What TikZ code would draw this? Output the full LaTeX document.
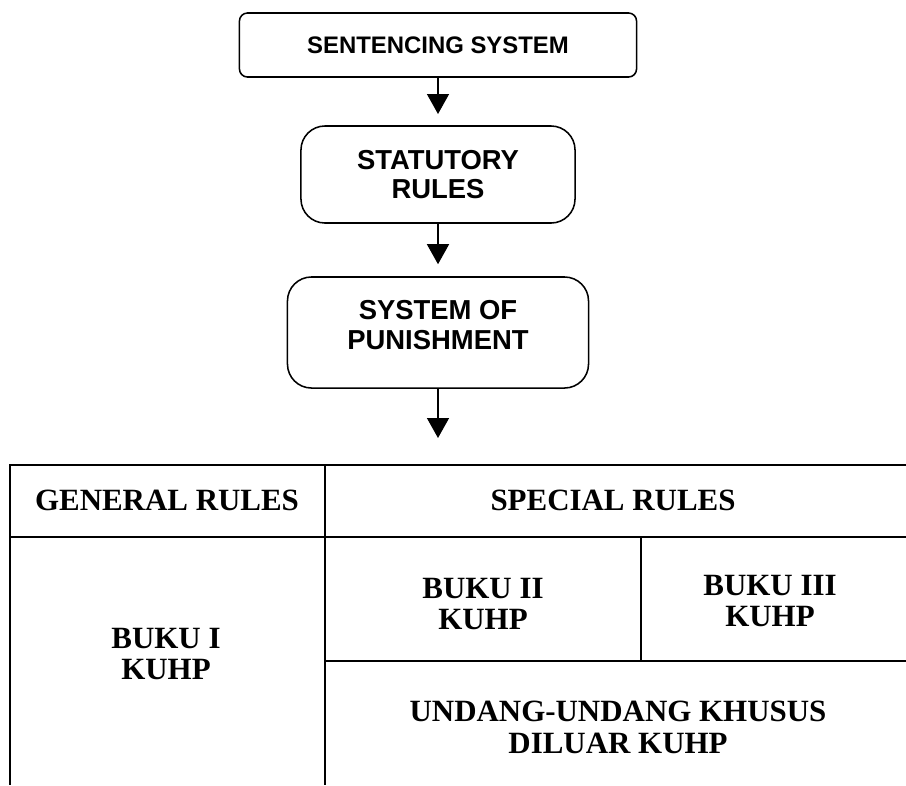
\documentclass[tikz,border=0pt]{standalone}
\usepackage{fontspec}
\setmainfont{Liberation Serif}
\setsansfont{Liberation Sans}
\usetikzlibrary{arrows.meta}

\begin{document}
\begin{tikzpicture}[x=0.025cm,y=-0.025cm,
  >={Triangle[length=0.5cm,width=0.55cm]},
  stage/.style={draw,line width=1.1pt,rounded corners=0.6cm,align=center,
    inner sep=0pt,font=\sffamily\bfseries\fontsize{19.5}{21}\selectfont},
  flow/.style={line width=1pt,->},
  cell/.style={align=center,inner sep=0pt,
    font=\rmfamily\bfseries\fontsize{22}{22.7}\selectfont},
  rule/.style={line width=1.2pt}]
  \useasboundingbox (0,0) rectangle (906,785);

  % chain of boxes
  \node[stage,rounded corners=0.2cm,minimum width=9.925cm,minimum height=1.6cm,
    font=\sffamily\bfseries\fontsize{17}{20}\selectfont] (sent) at (438,45)
    {SENTENCING SYSTEM};
  \node[stage,minimum width=6.85cm,minimum height=2.425cm] (stat) at (438,174.5)
    {STATUTORY\\RULES};
  \node[stage,minimum width=7.525cm,minimum height=2.775cm] (pun) at (438,332.5) {};
  \node[stage,draw=none] (punlbl) at (438,325) {SYSTEM OF\\PUNISHMENT};
  \coordinate (tbl) at (438,438);

  \draw[flow,shorten >=0.28cm] (sent.south) -- (stat.north);
  \draw[flow,shorten >=0.3cm] (stat.south) -- (pun.north);
  \draw[flow] (pun.south) -- (tbl);

  % table of rules
  \draw[rule] (906,465) -- (10,465) -- (10,785);
  \draw[rule] (10,537) -- (906,537);
  \draw[rule] (325,465) -- (325,785);
  \draw[rule] (641,537) -- (641,661);
  \draw[rule] (325,661) -- (906,661);

  \node[cell] (gen) at (167,500) {GENERAL RULES};
  \node[cell] (spec) at (613,500) {SPECIAL RULES};
  \node[cell] (buku1) at (166,654) {BUKU I\\KUHP};
  \node[cell] (buku2) at (483,604) {BUKU II\\KUHP};
  \node[cell] (buku3) at (770,601) {BUKU III\\KUHP};
  \node[cell] (uu) at (618,727) {UNDANG-UNDANG KHUSUS\\DILUAR KUHP};
\end{tikzpicture}
\end{document}
